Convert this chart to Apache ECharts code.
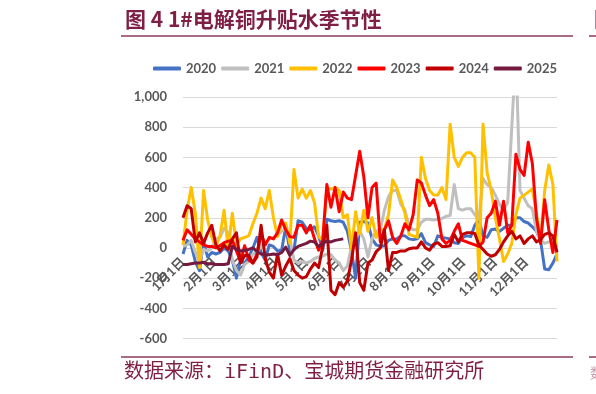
<!DOCTYPE html>
<html><head><meta charset="utf-8">
<script src="https://cdn.jsdelivr.net/npm/echarts@6/dist/echarts.min.js"></script>
<style>html,body{margin:0;padding:0;background:#fff}#c{width:596px;height:394px}</style>
</head><body><div id="c"></div>
<script>
const monthNames = ['1月','2月','3月','4月','5月','6月','7月','8月','9月','10月','11月','12月'];
const monthDays = [31,28,31,30,31,30,31,31,30,31,30,31];
const seriesNames = ['2020','2021','2022','2023','2024','2025'];
const STEP = 4; // one reading every 4 calendar days, starting Jan 1
const v2020 = [-40,50,20,-90,-150,40,-60,-30,-40,-30, 0,-20,-80,-200,-80,-100,-60,0,70,-30, -80,20,10,-20,-15,140,-20,-15,180,170, 130,120,140,80,-15,190,180,175,180,170, 110,-20,-200,170,175,165,60,20,10,15, 50,60,60,80,80,60,55,60,95,35, 20,10,80,70,65,60,35,30,70,80, 75,150,190,80,70,120,125,110,130,150, 150,200,200,175,165,140,110,50,-140,-145, -100,-40];
const v2021 = [10,20,50,-30,-90,-10,-20,0,60,70, 130,100,-80,-150,-180,-110,-90,-40,-30,10, 30,60,70,80,110,130,60,-80,-100,-90, -100,-90,-70,-60,-55,-40,-45,-80,-100,-150, -120,10,60,110,60,-60,60,110,120,250, 340,380,380,290,250,140,120,120,170,190, 190,185,190,195,210,215,420,260,250,260, 260,220,190,460,420,400,350,290,250,300, 800,1300,380,330,280,260,110,50,30,40, 40,10];
const v2022 = [20,250,400,230,-130,380,185,70,10,80, 250,-10,230,20,60,70,80,160,230,330, 260,380,200,75,160,165,30,520,330,390, 330,380,300,75,50,400,390,400,380,200, 220,-10,240,95,250,110,200,70,120,120, 220,450,400,320,230,90,80,70,600,460, 380,350,350,400,320,820,600,540,600,630, 630,600,-200,820,500,380,200,60,-90,-40, 30,220,330,350,370,390,230,40,380,550, 420,-90];
const v2023 = [50,120,90,60,40,20,10,10,0,15, 35,45,50,-20,-90,15,-80,-100,-40,95, 20,70,60,100,185,120,75,70,150,150, 100,150,60,-15,50,420,270,400,240,370, 330,320,480,640,470,200,400,430,40,120, 180,70,30,80,160,120,220,450,430,350, 280,320,230,60,30,50,110,160,50,40, 30,20,10,40,200,230,310,150,310,100, 150,620,520,480,700,560,200,30,320,120, -30,185];
const v2024 = [200,280,260,40,100,30,100,150,20,-20, 20,-10,60,100,-100,-50,-50,-100,-60,150, -70,-160,-200,-40,-180,-120,-70,-150,-180,-200, -190,-140,-100,-130,10,150,-280,-310,-230,-260, -220,-80,100,-230,-280,-100,-80,-25,0,120, -150,-30,-30,-20,-20,-5,0,0,40,0, -15,25,35,10,10,15,90,40,90,100, 100,95,20,-10,-40,-55,-45,-10,40,80, 110,60,80,30,60,80,40,55,90,100, 80,-30];
const v2025 = [-110,-110,-105,-100,-100,-95,-105,-105,-110,-110, -110,-105,10,-10,-20,-15,-10,0,-25,-40, -45,-45,-40,-45,-30,5,-50,-10,10,20, 30,45,40,10,30,45,40,50,55,60];
const yTicks = {min: -600, max: 1000, interval: 200};
const colors = ['#4472C4','#BFBFBF','#FFC000','#FF0000','#C00000','#75193F'];

const categories = [], dayOfMonth = [];
monthNames.forEach((m, i) => { for (let d = 1; d <= monthDays[i]; d++) { categories.push(m + d + '日'); dayOfMonth.push(d); } });
const allValues = [v2020, v2021, v2022, v2023, v2024, v2025];

const gridTop = 97, gridBottomPx = 338.5;
const zeroPx = gridTop + (yTicks.max - 0) / (yTicks.max - yTicks.min) * (gridBottomPx - gridTop);

const chart = echarts.init(document.getElementById('c'), null, {renderer: 'canvas'});
const maroon = '#7F1F45';
chart.setOption({
  animation: false,
  color: colors,
  grid: {left: 183, right: 39, top: gridTop, bottom: 394 - gridBottomPx, containLabel: false},
  legend: {
    left: 148, top: 57, itemWidth: 28, itemHeight: 4, itemGap: 5, icon: 'roundRect',
    data: seriesNames,
    textStyle: {color: '#595959', fontSize: 13, fontWeight: 'bold', fontFamily: 'Lato'}
  },
  xAxis: {
    type: 'category', data: categories, boundaryGap: false,
    offset: -(gridBottomPx - zeroPx),
    axisLine: {show: false, onZero: false},
    axisTick: {show: false},
    axisLabel: {
      interval: (idx) => dayOfMonth[idx] === 1, rotate: 45, margin: 12,
      color: '#595959', fontSize: 13, fontWeight: 'bold', fontFamily: 'Lato, "Noto Sans CJK SC"'
    },
    splitLine: {show: false}
  },
  yAxis: {
    type: 'value', min: yTicks.min, max: yTicks.max, interval: yTicks.interval,
    axisLine: {show: false}, axisTick: {show: false},
    axisLabel: {margin: 16, color: '#595959', fontSize: 13, fontWeight: 'bold', fontFamily: 'Lato',
      formatter: v => v.toLocaleString('en-US')},
    splitLine: {lineStyle: {color: '#D9D9D9', width: 1}}
  },
  series: seriesNames.map((n, i) => ({
    name: n, type: 'line', symbol: 'none', showSymbol: false, clip: true,
    lineStyle: {width: 3, color: colors[i], join: 'round'},
    itemStyle: {color: colors[i]},
    data: allValues[i].map((y, k) => [k * STEP, y])
  })),
  graphic: [
    {type: 'text', left: 125, top: 9, style: {text: '图 4 1#电解铜升贴水季节性', fill: maroon, fontSize: 21, fontWeight: 'bold', fontFamily: '"Noto Sans CJK SC"'}},
    {type: 'line', shape: {x1: 121, y1: 36, x2: 573, y2: 36}, style: {stroke: '#8E3B5C', lineWidth: 1.5}},
    {type: 'line', shape: {x1: 589, y1: 36, x2: 596, y2: 36}, style: {stroke: '#8E3B5C', lineWidth: 1.5}},
    {type: 'text', left: 594, top: 9, style: {text: '图', fill: maroon, fontSize: 20, fontWeight: 'bold', fontFamily: '"Noto Sans CJK SC"'}},
    {type: 'line', shape: {x1: 121, y1: 357, x2: 573, y2: 357}, style: {stroke: '#8E3B5C', lineWidth: 1.5}},
    {type: 'line', shape: {x1: 589, y1: 357, x2: 596, y2: 357}, style: {stroke: '#8E3B5C', lineWidth: 1.5}},
    {type: 'text', left: 124, top: 363, style: {text: '数据来源：iFinD、宝城期货金融研究所', fill: maroon, fontSize: 20, fontFamily: '"DejaVu Sans Mono", "Noto Sans CJK SC"'}},
    {type: 'text', left: 590, top: 366, style: {text: '数', fill: '#C9A3B3', fontSize: 14, fontFamily: '"Noto Sans CJK SC"'}}
  ]
});
</script></body></html>
